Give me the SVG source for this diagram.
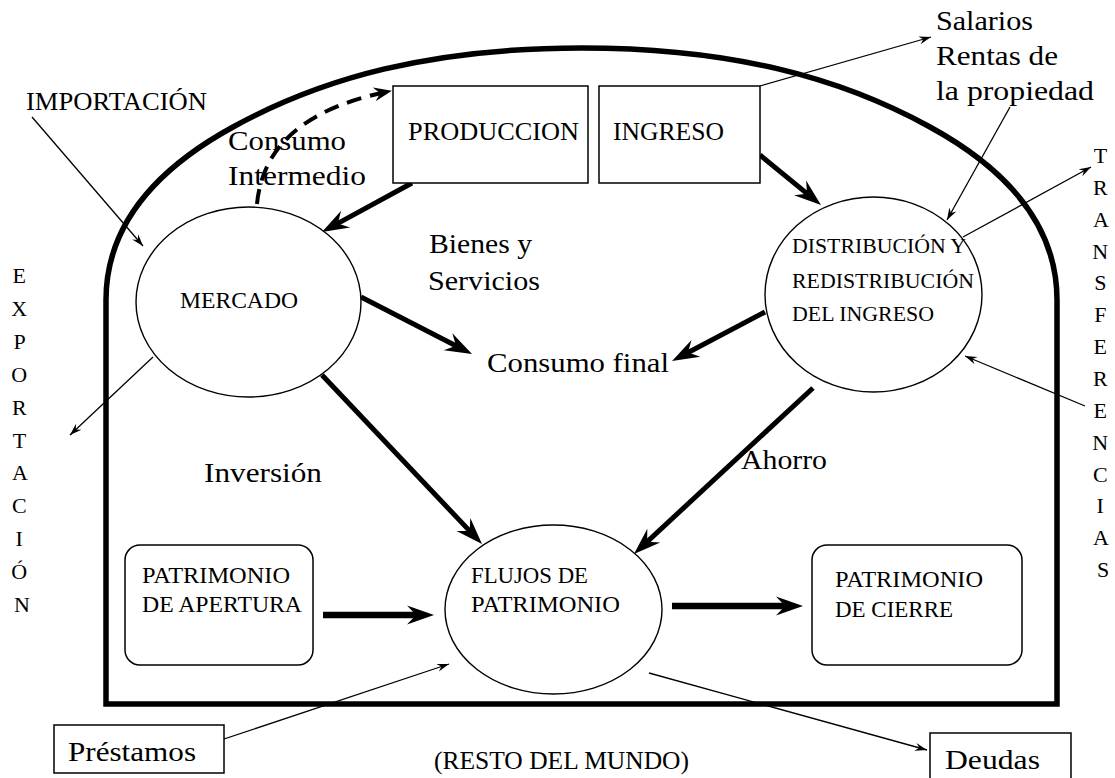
<svg xmlns="http://www.w3.org/2000/svg" width="1115" height="778" viewBox="0 0 1115 778">
  <style>
    text { font-family: 'Liberation Serif', 'Times New Roman', serif; fill: #000; }
    .cap { font-size: 25px; }
    .sm { font-size: 23px; }
    .lbl { font-size: 28px; }
    .vert { font-size: 22px; text-anchor: middle; }
    .box { fill: #fff; stroke: #000; stroke-width: 1.5; }
    .ell { fill: #fff; stroke: #000; stroke-width: 1.4; }
    .thick { fill: none; stroke: #000; stroke-width: 5; marker-end: url(#headThick); }
    .thickH { fill: none; stroke: #000; stroke-width: 6.5; marker-end: url(#headThick); }
    .thin { fill: none; stroke: #000; stroke-width: 1.3; marker-end: url(#headThin); }
    .dash { fill: none; stroke: #000; stroke-width: 4; stroke-dasharray: 15 9; marker-end: url(#headDash); }
  </style>
  <defs>
    <marker id="headThick" markerUnits="userSpaceOnUse" markerWidth="40" markerHeight="30" refX="0" refY="0" orient="auto" overflow="visible">
      <path d="M16,0 L-11,-9.5 L-2,0 L-11,9.5 Z" fill="#000"/>
    </marker>
    <marker id="headThin" markerUnits="userSpaceOnUse" markerWidth="20" markerHeight="12" refX="0" refY="0" orient="auto" overflow="visible">
      <path d="M0,0 L-12,-4 L-8,0 L-12,4 Z" fill="#000"/>
    </marker>
    <marker id="headDash" markerUnits="userSpaceOnUse" markerWidth="24" markerHeight="16" refX="0" refY="0" orient="auto" overflow="visible">
      <path d="M6,0 L-12,-7 L-6,0 L-12,7 Z" fill="#000"/>
    </marker>
  </defs>

  <rect x="0" y="0" width="1115" height="778" fill="#fff"/>

  <g id="frontera">
    <path d="M106,704 L106,300 C106,210 180,156 233,127 C323,77.5 431.5,48 581.5,48 C731.5,48 840,77.5 930,127 C983,156 1057,210 1057,300 L1057,704 Z" fill="none" stroke="#000" stroke-width="5.5" stroke-linejoin="miter"/>
  </g>

  <g id="conectores">
    <path class="dash" d="M257,204 C262,150 300,110 386,92"/>
    <line class="thick" x1="412" y1="183" x2="336" y2="224.4"/>
    <line class="thick" x1="361" y1="297" x2="457.8" y2="346.7"/>
    <line class="thick" x1="765" y1="312" x2="686.2" y2="353.5"/>
    <line class="thick" x1="760" y1="155" x2="808.6" y2="194.9"/>
    <line class="thick" x1="322" y1="375" x2="471" y2="532.4"/>
    <line class="thick" x1="813" y1="388" x2="645.7" y2="543.1"/>
    <line class="thickH" x1="323" y1="615" x2="418" y2="615"/>
    <line class="thickH" x1="672" y1="606" x2="787" y2="606"/>
    <line class="thin" x1="32" y1="117" x2="143" y2="246"/>
    <line class="thin" x1="153" y1="357" x2="70" y2="435"/>
    <line class="thin" x1="760" y1="86" x2="931" y2="37"/>
    <line class="thin" x1="1010" y1="107" x2="947" y2="220"/>
    <line class="thin" x1="963" y1="237" x2="1091" y2="167"/>
    <line class="thin" x1="1085" y1="406" x2="965" y2="356"/>
    <line class="thin" x1="203" y1="746" x2="449" y2="664"/>
    <line class="thin" x1="649" y1="673" x2="927" y2="750"/>
  </g>

  <g id="produccion">
    <rect class="box" x="393" y="86" width="195" height="97"/>
    <text class="cap" x="408" y="140" textLength="171" lengthAdjust="spacingAndGlyphs">PRODUCCION</text>
  </g>
  <g id="ingreso">
    <rect class="box" x="599" y="86" width="161" height="97"/>
    <text class="cap" x="613" y="140" textLength="111" lengthAdjust="spacingAndGlyphs">INGRESO</text>
  </g>
  <g id="mercado">
    <ellipse class="ell" cx="248.5" cy="302" rx="112.5" ry="95"/>
    <text class="sm" x="180" y="308" textLength="118" lengthAdjust="spacingAndGlyphs">MERCADO</text>
  </g>
  <g id="distribucion">
    <ellipse class="ell" cx="873.5" cy="294.5" rx="108.5" ry="97.5"/>
    <text font-size="22" x="792" y="253" textLength="174" lengthAdjust="spacingAndGlyphs">DISTRIBUCIÓN Y</text>
    <text font-size="22" x="792" y="288" textLength="182" lengthAdjust="spacingAndGlyphs">REDISTRIBUCIÓN</text>
    <text font-size="22" x="792" y="321" textLength="142" lengthAdjust="spacingAndGlyphs">DEL INGRESO</text>
  </g>
  <g id="flujos">
    <ellipse class="ell" cx="553.5" cy="609.5" rx="108.5" ry="84.5"/>
    <text class="sm" x="471" y="583" textLength="117" lengthAdjust="spacingAndGlyphs">FLUJOS DE</text>
    <text class="sm" x="471" y="612" textLength="149" lengthAdjust="spacingAndGlyphs">PATRIMONIO</text>
  </g>
  <g id="apertura">
    <rect class="box" x="125" y="545" width="188" height="120" rx="15" ry="15"/>
    <text class="sm" x="142" y="583" textLength="148" lengthAdjust="spacingAndGlyphs">PATRIMONIO</text>
    <text class="sm" x="142" y="612" textLength="160" lengthAdjust="spacingAndGlyphs">DE APERTURA</text>
  </g>
  <g id="cierre">
    <rect class="box" x="812" y="545" width="210" height="120" rx="15" ry="15"/>
    <text class="sm" x="835" y="587" textLength="148" lengthAdjust="spacingAndGlyphs">PATRIMONIO</text>
    <text class="sm" x="835" y="617" textLength="118" lengthAdjust="spacingAndGlyphs">DE CIERRE</text>
  </g>
  <g id="prestamos">
    <rect class="box" x="54" y="725" width="170" height="48"/>
    <text class="lbl" x="68" y="761" textLength="128" lengthAdjust="spacingAndGlyphs">Préstamos</text>
  </g>
  <g id="deudas">
    <rect class="box" x="930" y="733" width="141" height="60"/>
    <text class="lbl" x="945" y="769" textLength="95" lengthAdjust="spacingAndGlyphs">Deudas</text>
  </g>

  <g id="etiquetas">
    <text font-size="25" x="26" y="110" textLength="181" lengthAdjust="spacingAndGlyphs">IMPORTACIÓN</text>
    <text class="lbl" x="228" y="150" textLength="118" lengthAdjust="spacingAndGlyphs">Consumo</text>
    <text class="lbl" x="228" y="185" textLength="138" lengthAdjust="spacingAndGlyphs">Intermedio</text>
    <text class="lbl" x="429" y="253" textLength="103" lengthAdjust="spacingAndGlyphs">Bienes y</text>
    <text class="lbl" x="428" y="290" textLength="112" lengthAdjust="spacingAndGlyphs">Servicios</text>
    <text class="lbl" x="487" y="372" textLength="182" lengthAdjust="spacingAndGlyphs">Consumo final</text>
    <text class="lbl" x="936" y="30" textLength="97" lengthAdjust="spacingAndGlyphs">Salarios</text>
    <text class="lbl" x="936" y="65" textLength="122" lengthAdjust="spacingAndGlyphs">Rentas de</text>
    <text class="lbl" x="936" y="100" textLength="158" lengthAdjust="spacingAndGlyphs">la propiedad</text>
    <text class="lbl" x="204" y="482" textLength="118" lengthAdjust="spacingAndGlyphs">Inversión</text>
    <text class="lbl" x="741" y="469" textLength="86" lengthAdjust="spacingAndGlyphs">Ahorro</text>
    <text font-size="25" x="434" y="769" textLength="255" lengthAdjust="spacingAndGlyphs">(RESTO DEL MUNDO)</text>
    <text class="vert">
      <tspan x="22" y="283">E</tspan>
      <tspan x="22" y="315.9">X</tspan>
      <tspan x="22" y="348.8">P</tspan>
      <tspan x="22" y="381.7">O</tspan>
      <tspan x="22" y="414.6">R</tspan>
      <tspan x="22" y="447.5">T</tspan>
      <tspan x="22" y="480.4">A</tspan>
      <tspan x="22" y="513.3">C</tspan>
      <tspan x="22" y="546.2">I</tspan>
      <tspan x="22" y="579.1">Ó</tspan>
      <tspan x="22" y="612">N</tspan>
    </text>
    <text class="vert">
      <tspan x="1103" y="163">T</tspan>
      <tspan x="1103" y="194.85">R</tspan>
      <tspan x="1103" y="226.7">A</tspan>
      <tspan x="1103" y="258.55">N</tspan>
      <tspan x="1103" y="290.4">S</tspan>
      <tspan x="1103" y="322.25">F</tspan>
      <tspan x="1103" y="354.1">E</tspan>
      <tspan x="1103" y="385.95">R</tspan>
      <tspan x="1103" y="417.8">E</tspan>
      <tspan x="1103" y="449.65">N</tspan>
      <tspan x="1103" y="481.5">C</tspan>
      <tspan x="1103" y="513.35">I</tspan>
      <tspan x="1103" y="545.2">A</tspan>
      <tspan x="1103" y="577.05">S</tspan>
    </text>
  </g>
</svg>
